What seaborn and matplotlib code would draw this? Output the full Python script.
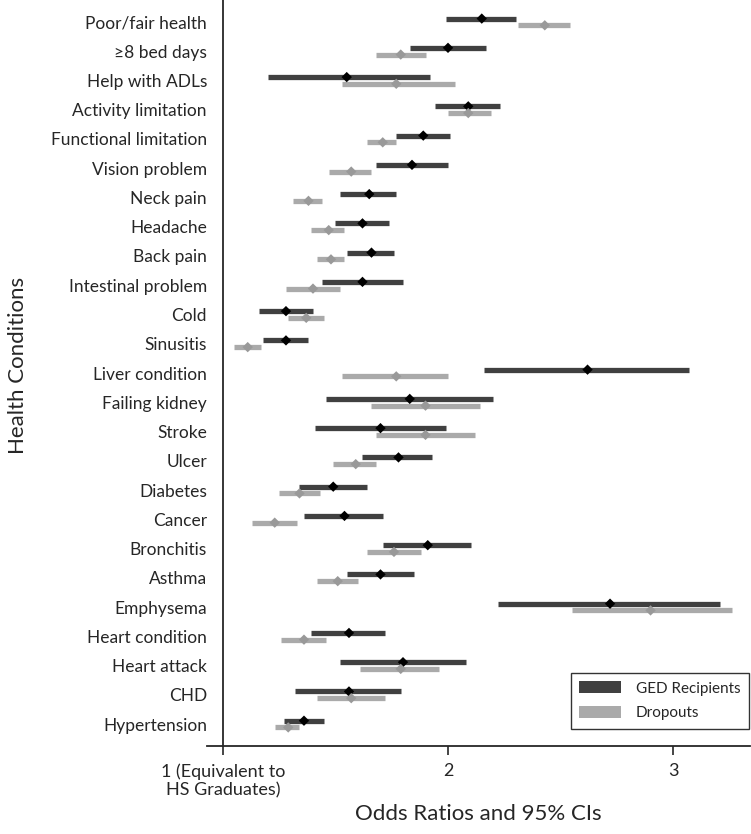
import numpy as np
import pandas as pd
import seaborn as sns
import matplotlib.pyplot as plt
from matplotlib.patches import Patch

# Health conditions, top to bottom
conditions = ["Poor/fair health", "\u22658 bed days", "Help with ADLs", "Activity limitation",
              "Functional limitation", "Vision problem", "Neck pain", "Headache", "Back pain",
              "Intestinal problem", "Cold", "Sinusitis", "Liver condition", "Failing kidney",
              "Stroke", "Ulcer", "Diabetes", "Cancer", "Bronchitis", "Asthma", "Emphysema",
              "Heart condition", "Heart attack", "CHD", "Hypertension"]

# GED recipients: odds ratio and 95% CI
ged_or = [2.15, 2.00, 1.55, 2.09, 1.89, 1.84, 1.65, 1.62, 1.66, 1.62, 1.28, 1.28, 2.62,
          1.83, 1.70, 1.78, 1.49, 1.54, 1.91, 1.70, 2.72, 1.56, 1.80, 1.56, 1.36]
ged_lo = [1.99, 1.83, 1.20, 1.94, 1.77, 1.68, 1.52, 1.50, 1.55, 1.44, 1.16, 1.18, 2.16,
          1.46, 1.41, 1.62, 1.34, 1.36, 1.71, 1.55, 2.22, 1.39, 1.52, 1.32, 1.27]
ged_hi = [2.30, 2.17, 1.92, 2.23, 2.01, 2.00, 1.77, 1.74, 1.76, 1.80, 1.40, 1.38, 3.07,
          2.20, 1.99, 1.93, 1.64, 1.71, 2.10, 1.85, 3.21, 1.72, 2.08, 1.79, 1.45]

# Dropouts: odds ratio and 95% CI
drop_or = [2.43, 1.79, 1.77, 2.09, 1.71, 1.57, 1.38, 1.47, 1.48, 1.40, 1.37, 1.11, 1.77,
           1.90, 1.90, 1.59, 1.34, 1.23, 1.76, 1.51, 2.90, 1.36, 1.79, 1.57, 1.29]
drop_lo = [2.31, 1.68, 1.53, 2.00, 1.64, 1.47, 1.31, 1.39, 1.42, 1.28, 1.29, 1.05, 1.53,
           1.66, 1.68, 1.49, 1.25, 1.13, 1.64, 1.42, 2.55, 1.26, 1.61, 1.42, 1.23]
drop_hi = [2.54, 1.90, 2.03, 2.19, 1.77, 1.66, 1.44, 1.54, 1.54, 1.52, 1.45, 1.17, 2.00,
           2.14, 2.12, 1.68, 1.43, 1.33, 1.88, 1.60, 3.26, 1.46, 1.96, 1.72, 1.34]

groups = ["GED Recipients", "Dropouts"]
bar_colors = {"GED Recipients": "#404040", "Dropouts": "#aaaaaa"}
dot_colors = {"GED Recipients": "#000000", "Dropouts": "#999999"}
offsets = {"GED Recipients": -0.115, "Dropouts": 0.115}

rows = np.arange(len(conditions))
df = pd.concat([
    pd.DataFrame({"condition": conditions, "row": rows + offsets["GED Recipients"],
                  "or": ged_or, "lo": ged_lo, "hi": ged_hi, "group": "GED Recipients"}),
    pd.DataFrame({"condition": conditions, "row": rows + offsets["Dropouts"],
                  "or": drop_or, "lo": drop_lo, "hi": drop_hi, "group": "Dropouts"}),
])

sns.set_style("ticks")
plt.rcParams['font.family'] = ['Lato', 'DejaVu Sans']

fig = plt.figure(figsize=(7.51, 8.34), dpi=100)
ax = fig.add_axes([0.2756, 0.1055, 0.7231, 0.8945])

# CI bars
for g in groups:
    sub = df[df["group"] == g]
    ax.hlines(sub["row"], sub["lo"], sub["hi"], color=bar_colors[g], linewidth=3.8)

# point estimates
sns.scatterplot(data=df, x="or", y="row", hue="group", palette=dot_colors,
                marker="D", s=28, linewidth=0, legend=False, ax=ax, zorder=3)

# spines first (moving the spine resets the tick labels)
sns.despine(ax=ax)
ax.spines['left'].set_position(('data', 1))
ax.spines['left'].set_linewidth(1.3)
ax.spines['bottom'].set_linewidth(1.3)

ax.set_xlim(0.929, 3.342)
ax.set_ylim(24.75, -0.75)
ax.tick_params(axis="y", length=0, pad=11.5, labelsize=12.5)
ax.tick_params(axis="x", length=6.5, width=1.2, pad=6, labelsize=13)
ax.set_yticks(rows)
ax.set_yticklabels(conditions)
ax.set_xticks([1, 2, 3])
ax.set_xticklabels(["1 (Equivalent to\nHS Graduates)", "2", "3"])
for lbl in ax.get_xticklabels():
    lbl.set_multialignment("center")

ax.set_xlabel("Odds Ratios and 95% CIs", fontsize=16)
ax.set_ylabel("Health Conditions", fontsize=16)
ax.xaxis.set_label_coords(0.5, -0.078)
ax.yaxis.set_label_coords(-0.33, 0.51)

handles = [Patch(facecolor=bar_colors[g], edgecolor="none", label=g) for g in groups]
leg = ax.legend(handles=handles, loc="lower right", bbox_to_anchor=(0.998, 0.023),
                borderaxespad=0, fontsize=11, frameon=True, fancybox=False,
                handlelength=2.7, handleheight=0.8, handletextpad=1.0,
                labelspacing=0.7, borderpad=0.55)
leg.get_frame().set_edgecolor("black")
leg.get_frame().set_linewidth(1.0)

fig.savefig("out.png", dpi=100)
